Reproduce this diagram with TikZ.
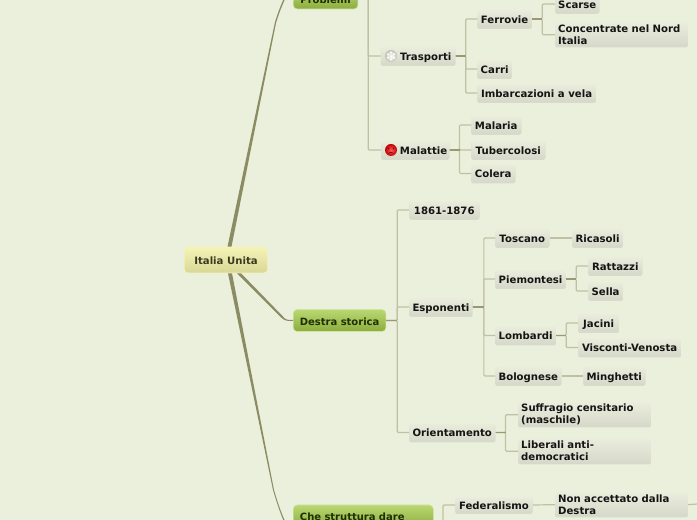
\documentclass[tikz,border=0pt]{standalone}
\usepackage{fontspec}
\setmainfont{DejaVu Sans}
\usetikzlibrary{calc,shadows}
\definecolor{bgc}{HTML}{EBF0DC}
\definecolor{linec}{HTML}{C0C1A4}
\definecolor{mainc}{HTML}{8C8C64}
\definecolor{leaftop}{HTML}{EAECDC}
\definecolor{leafbot}{HTML}{D6D8C9}
\definecolor{B1}{HTML}{BAD872}
\definecolor{B2}{HTML}{8CAC3E}
\definecolor{T1}{HTML}{1E3000}
\definecolor{R1}{HTML}{F5F4B8}
\definecolor{R2}{HTML}{D8D795}
\definecolor{T2}{HTML}{3A3A20}
\tikzset{
  leafbase/.style={anchor=west,inner sep=0pt,rounded corners=1pt,top color=leaftop,bottom color=leafbot,
    drop shadow={shadow xshift=0pt,shadow yshift=-.6pt,opacity=.18,fill=black!50},
    font=\fontsize{7.6}{9}\selectfont\bfseries,text=black!92,align=left},
  leafa/.style={leafbase,minimum height=13.5,text height=7.7pt,text depth=1.2pt},
  leafm/.style={leafbase,minimum height=18,minimum width=99,text width=95,inner xsep=2.2pt},
  mainb/.style={anchor=west,inner sep=0pt,rounded corners=3pt,top color=B1,bottom color=B2,draw=B1!70!white,line width=.4pt,
    font=\fontsize{7.5}{9}\selectfont\bfseries,text=T1,text height=8pt,text depth=1pt,align=left},
  rootb/.style={anchor=center,inner sep=0pt,rounded corners=3pt,top color=R1,bottom color=R2,draw=R1,line width=.4pt,
    font=\fontsize{7.6}{9}\selectfont\bfseries,text=T2,text height=8pt,text depth=1pt},
  link/.style={draw=linec,line width=.9pt,rounded corners=.8pt},
  stub/.style={draw=mainc!75!linec,line width=.9pt},
  tape/.style={fill=mainc,draw=none}
}
\begin{document}
\begin{tikzpicture}[x=0.75pt,y=-0.75pt]
\clip (0,0) rectangle (697,520);
\fill[bgc] (0,0) rectangle (697,520);

% nodes
\node[rootb,minimum width=62.5,minimum height=19.5] (root) at (226,260) {Italia Unita};
\node[mainb,minimum width=48.5,minimum height=15] (prob) at (293,-1) {Problemi};
\node[mainb,minimum width=69.5,minimum height=16.5] (dest) at (293,320.5) {Destra storica};
\node[mainb,minimum width=104.5,minimum height=16.5,text width=95,inner xsep=5pt] (che) at (293,516) {Che struttura dare};

\node[leafa,minimum width=56] (tras) at (380.5,56) {\hspace{11.5pt}Trasporti};
\node[leafa,minimum width=51] (mal) at (381,150) {\hspace{12.5pt}Malattie};
\node[leafa,minimum width=41] (ferr) at (477,19) {Ferrovie};
\node[leafa,minimum width=33] (scar) at (555,4) {Scarse};
\node[leafm,yshift=-.5pt] (conc) at (555,34) {Concentrate nel Nord\\Italia};
\node[leafa,minimum width=26] (carr) at (477,69) {Carri};
\node[leafa,minimum width=89] (imba) at (477,93) {Imbarcazioni a vela};
\node[leafa,minimum width=37.5] (mala) at (471,125) {Malaria};
\node[leafa,minimum width=55.5] (tube) at (471,150) {Tubercolosi};
\node[leafa,minimum width=33] (cole) at (471,173.5) {Colera};

\node[leafa,minimum width=52.5] (d1861) at (409,210) {1861-1876};
\node[leafa,minimum width=47.5] (espo) at (409,307) {Esponenti};
\node[leafa,minimum width=64.5] (orie) at (409,432.5) {Orientamento};
\node[leafa,minimum width=40.5] (tosc) at (495,238) {Toscano};
\node[leafa,minimum width=38] (rica) at (572,238) {Ricasoli};
\node[leafa,minimum width=53] (piem) at (495,279) {Piemontesi};
\node[leafa,minimum width=40.5] (ratt) at (588,266) {Rattazzi};
\node[leafa,minimum width=26] (sell) at (588,291) {Sella};
\node[leafa,minimum width=45.5] (lomb) at (495,335.5) {Lombardi};
\node[leafa,minimum width=30.5] (jaci) at (578,323) {Jacini};
\node[leafa,minimum width=77] (visc) at (578,347.5) {Visconti-Venosta};
\node[leafa,minimum width=49.5] (bolo) at (495,376) {Bolognese};
\node[leafa,minimum width=46.5] (ming) at (583,376) {Minghetti};
\node[leafm,yshift=-.5pt] (suff) at (518,414) {Suffragio censitario\\(maschile)};
\node[leafm,minimum height=18.5,yshift=-.5pt] (libe) at (518,450.5) {Liberali anti-\\democratici};
\node[leafa,minimum width=58,minimum height=12] (fede) at (455,505) {Federalismo};
\node[leafm,yshift=-.5pt] (nona) at (555,504) {Non accettato dalla\\Destra};
\coordinate (offr) at (697,504);
\coordinate (offd) at (443,525);

% root connectors
\fill[tape] ($(root.north)+(1.5,0)$) -- (275,22) .. controls (278,12) and (281,5) .. (284,-2)
  -- (285,-1) .. controls (282,6) and (279,13) .. (276,23) -- ($(root.north)+(5.5,0)$) -- cycle;
\fill[tape] ($(root.south)+(2,0)$) -- (273,490) .. controls (276,500) and (279,510) .. (284,522)
  -- (285,521) .. controls (280,510) and (277,500) .. (274,490) -- ($(root.south)+(6,0)$) -- cycle;
\fill[tape] ($(root.south)+(11,0)$) -- (281,317.5) .. controls (285,321) and (287,321) .. (293,321)
  -- (293,320) .. controls (287,320) and (286,320) .. (283,316.5) -- ($(root.south)+(15,0)$) -- cycle;

% branch connectors
\foreach \p/\c/\d in {prob/tras/10,prob/mal/10,tras/ferr/10,tras/carr/10,tras/imba/10,
   ferr/scar/10,ferr/conc/10,mal/mala/10,mal/tube/10,mal/cole/10,
   dest/d1861/11,dest/espo/11,dest/orie/11,espo/tosc/11,espo/piem/11,espo/lomb/11,espo/bolo/11,
   piem/ratt/10,piem/sell/10,lomb/jaci/10,lomb/visc/10,orie/suff/10,orie/libe/10}{
  \draw[link] (\p.east) -- ++(\d,0) |- (\c.west);
  \draw[stub] (\p.east) -- ++(\d,0);
}
\draw[link] (tosc.east) -- (rica.west);
\draw[link] (bolo.east) -- (ming.west);
\draw[link] (fede.east) -- (nona.west);
\draw[link] (nona.east) -- (offr);
\draw[link] (fede.west) -| (offd);

% icons
\shade[inner color=white,outer color=black!18!leaftop] (391,56) circle[radius=6];
\foreach \a in {30,90,...,330}{\fill[white,opacity=.8] (391,56) ++(\a:3.4) circle[radius=1.4];}
\shade[inner color=red!65!white,outer color=red!75!black] (391,150) circle[radius=6];
\fill[black!55!red] (388.6,148.6) circle[radius=.8] (393.4,148.6) circle[radius=.8];
\draw[black!55!red,line width=.4pt] (388.5,153.3) .. controls (390,152) and (392,152) .. (393.5,153.3);
\end{tikzpicture}
\end{document}
